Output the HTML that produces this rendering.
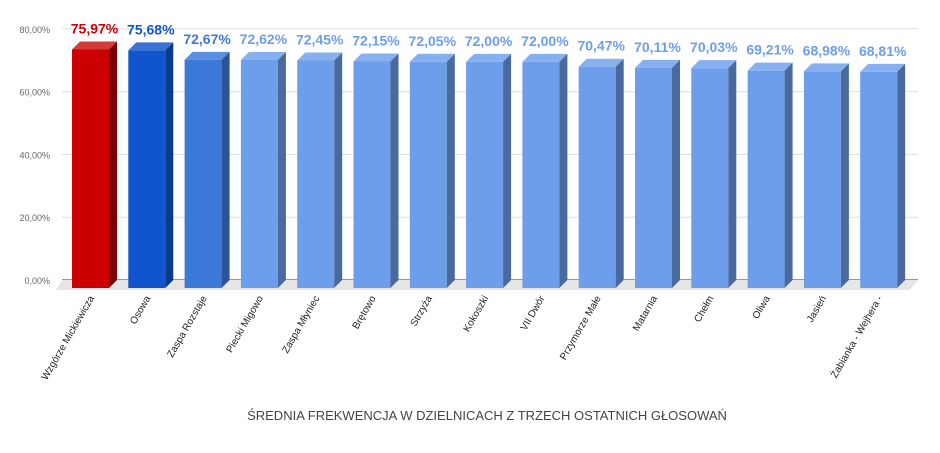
<!DOCTYPE html>
<html><head><meta charset="utf-8"><style>
body{margin:0;background:#fff;width:940px;height:448px;overflow:hidden}
svg{font-family:"Liberation Sans",Arial,sans-serif}
</style></head><body>
<svg id="chart" width="940" height="448" viewBox="0 0 940 448" xmlns="http://www.w3.org/2000/svg">
<g id="grid"></g><g id="floor"></g><g id="bars"></g><g id="labels"></g>
<text x="487" y="420" text-anchor="middle" font-size="13" fill="#444">ŚREDNIA FREKWENCJA W DZIELNICACH Z TRZECH OSTATNICH GŁOSOWAŃ</text>
</svg>
<script>
const categories=["Wzgórze Mickiewicza","Osowa","Zaspa Rozstaje","Piecki Migowo","Zaspa Młyniec","Brętowo","Strzyża","Kokoszki","VII Dwór","Przymorze Małe","Matarnia","Chełm","Oliwa","Jasień","Żabianka - Wejhera -"];
const values=[75.97,75.68,72.67,72.62,72.45,72.15,72.05,72.00,72.00,70.47,70.11,70.03,69.21,68.98,68.81];
const valueLabels=["75,97%","75,68%","72,67%","72,62%","72,45%","72,15%","72,05%","72,00%","72,00%","70,47%","70,11%","70,03%","69,21%","68,98%","68,81%"];
const ticks=[0,20,40,60,80];
const tickLabels=["0,00%","20,00%","40,00%","60,00%","80,00%"];
const NS="http://www.w3.org/2000/svg";
const D=8, base=288, scale=3.14;
const y=v=>base-v*scale;
const x=i=>72+i*56.3;
function mk(tag,attrs,parent){const e=document.createElementNS(NS,tag);for(const k in attrs)e.setAttribute(k,attrs[k]);parent.appendChild(e);return e;}
const grid=document.getElementById('grid'),bars=document.getElementById('bars'),labels=document.getElementById('labels'),floor=document.getElementById('floor');
ticks.forEach((t,i)=>{
 const gy=y(t)-D;
 const l=mk('line',{x1:62,x2:918,y1:gy,y2:gy,stroke:t===0?'#333':'#ddd','stroke-width':1},grid);
 
 
 const tx=mk('text',{x:50,y:gy+4,'text-anchor':'end','font-size':9,fill:'#666'},grid);
 tx.textContent=tickLabels[i];
 
 
});
const fl=mk('polygon',{points:`62,${base-D} 918,${base-D} 910,${base+2} 56,${base+2}`,fill:'#e6e6e6'},floor);


const pal=i=>i===0?['#cc0000','#d33a3a','#7a0000','#cc0000']:i===1?['#1155cc','#3a72d4','#0b3a8a','#1155cc']:i===2?['#3c78d8','#5a8ee0','#2a5398','#3c78d8']:['#6d9eeb','#86b0ef','#4a6a9e','#6d9eeb'];
values.forEach((v,i)=>{
 const bx=x(i),w=37,top=y(v),c=pal(i);
 const g=mk('g',{},bars);
 
 
 mk('rect',{x:bx,y:top,width:w,height:base-top,fill:c[0]},g);
 mk('polygon',{points:`${bx},${top} ${bx+D},${top-D} ${bx+w+D},${top-D} ${bx+w},${top}`,fill:c[1]},g);
 mk('polygon',{points:`${bx+w},${top} ${bx+w+D},${top-D} ${bx+w+D},${base-D} ${bx+w},${base}`,fill:c[2]},g);
 const vt=mk('text',{x:bx+w/2+4,y:top-D-8,'text-anchor':'middle','font-size':14,'font-weight':'bold',fill:c[3]},labels);
 vt.textContent=valueLabels[i];
 
 
 const cx=bx+w/2+4;
 const ct=mk('text',{x:0,y:0,'text-anchor':'end','font-size':10,fill:'#222',transform:`translate(${cx},${base+10}) rotate(-60)`},labels);
 ct.textContent=categories[i];
 
 
});
</script>
</body></html>
